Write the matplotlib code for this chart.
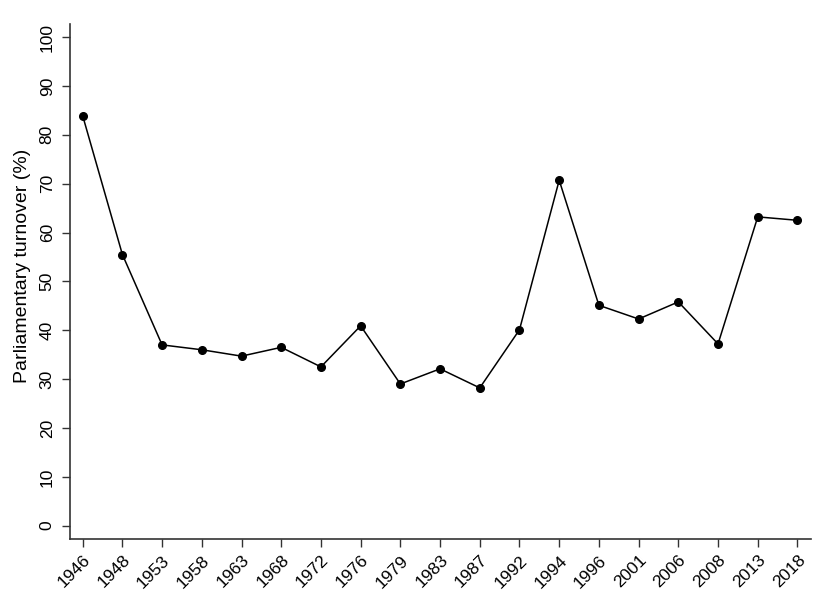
import matplotlib
matplotlib.use("Agg")
import matplotlib.pyplot as plt
import numpy as np

plt.rcParams['font.family'] = ['Liberation Sans', 'DejaVu Sans']

# election years and turnover (%)
years = ['1946', '1948', '1953', '1958', '1963', '1968', '1972', '1976', '1979', '1983',
         '1987', '1992', '1994', '1996', '2001', '2006', '2008', '2013', '2018']
turnover = [83.9, 55.5, 37.0, 36.0, 34.7, 36.5, 32.5, 40.9, 29.0, 32.1,
            28.2, 40.1, 70.7, 45.1, 42.3, 45.8, 37.2, 63.2, 62.5]
yticks = list(range(0, 101, 10))

fig = plt.figure(figsize=(8.29, 5.97), dpi=100)
ax = fig.add_axes([0.0844, 0.0977, 0.8936, 0.8623])

x = np.arange(len(years))
ax.plot(x, turnover, color='black', lw=1.1, marker='o', markersize=5.5)

ax.set_xlim(-0.32, len(years) - 1 + 0.335)
ax.set_ylim(-2.66, 102.7)

ax.set_xticks(x)
ax.set_xticklabels(years, rotation=45, ha='right', va='top', rotation_mode='anchor', fontsize=12.5)
ax.set_yticks(yticks)
ax.set_yticklabels([str(v) for v in yticks], rotation=90, va='center', fontsize=12.5)
ax.tick_params(axis='both', length=6, width=1, color='#333333')
ax.tick_params(axis='y', pad=5)
ax.tick_params(axis='x', pad=4)

for s in ['top', 'right']:
    ax.spines[s].set_visible(False)
for s in ['left', 'bottom']:
    ax.spines[s].set_linewidth(1.2)
    ax.spines[s].set_color('#333333')

ax.set_ylabel("Parliamentary turnover (%)", fontsize=14)
ax.yaxis.set_label_coords(-0.052, 0.529)

fig.savefig("out.png", dpi=100)
